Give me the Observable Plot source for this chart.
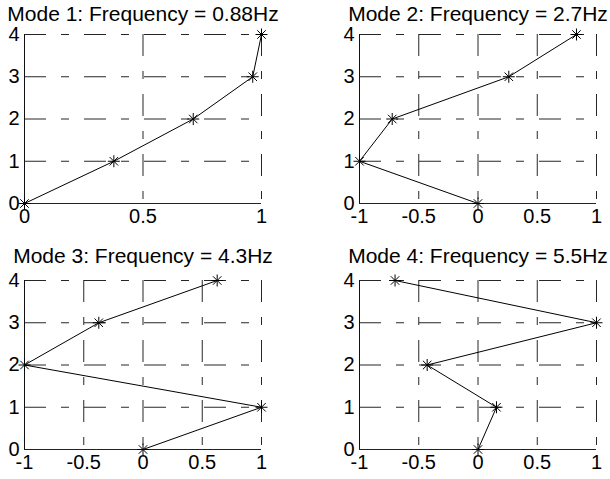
<!DOCTYPE html>
<html>
<head>
<meta charset="utf-8">
<script src="https://cdn.jsdelivr.net/npm/d3@7"></script>
<script src="https://cdn.jsdelivr.net/npm/@observablehq/plot@0.6"></script>
<style>
  html, body { margin: 0; padding: 0; background: #fff; }
  #chart { position: relative; width: 610px; height: 479px; background: #fff; overflow: hidden; }
  #chart svg { position: absolute; }
</style>
</head>
<body>
<div id="chart"></div>
<script>
// ---- data ----
const titles = [
  "Mode 1: Frequency = 0.88Hz",
  "Mode 2: Frequency = 2.7Hz",
  "Mode 3: Frequency = 4.3Hz",
  "Mode 4: Frequency = 5.5Hz"
];
const floors = [0, 1, 2, 3, 4];
const mode1 = [0, 0.377, 0.712, 0.963, 1];
const mode2 = [0, -1, -0.724, 0.26, 0.831];
const mode3 = [0, 1, -1, -0.373, 0.626];
const mode4 = [0, 0.156, -0.429, 1, -0.70];
const xTicksMode1 = [0, 0.5, 1];
const xTicksOther = [-1, -0.5, 0, 0.5, 1];
const yTicks = [0, 1, 2, 3, 4];

// 8-armed asterisk (plus + cross), like MATLAB's '*'
const asterisk8 = {
  draw(context, size) {
    const r = Math.sqrt(size / Math.PI);
    const d = r * Math.SQRT1_2;
    context.moveTo(-r, 0); context.lineTo(r, 0);
    context.moveTo(0, -r); context.lineTo(0, r);
    context.moveTo(-d, -d); context.lineTo(d, d);
    context.moveTo(-d, d); context.lineTo(d, -d);
  }
};

const panels = [
  {values: mode1, xTicks: xTicksMode1, left: 0,   top: 0,   width: 305, height: 240, mt: 34, mb: 37, ml: 24, mr: 44, titleDy: -14},
  {values: mode2, xTicks: xTicksOther, left: 305, top: 0,   width: 305, height: 240, mt: 34, mb: 37, ml: 54, mr: 14, titleDy: -14},
  {values: mode3, xTicks: xTicksOther, left: 0,   top: 240, width: 305, height: 239, mt: 40, mb: 30, ml: 24, mr: 44, titleDy: -18},
  {values: mode4, xTicks: xTicksOther, left: 305, top: 240, width: 305, height: 239, mt: 40, mb: 30, ml: 54, mr: 14, titleDy: -18}
];

const container = document.getElementById("chart");
const dash = "22,15,8,15";

panels.forEach((p, i) => {
  const data = floors.map((f, j) => ({floor: f, disp: p.values[j]}));
  const xDomain = [p.xTicks[0], p.xTicks[p.xTicks.length - 1]];
  const svg = Plot.plot({
    width: p.width,
    height: p.height,
    marginTop: p.mt,
    marginBottom: p.mb,
    marginLeft: p.ml,
    marginRight: p.mr,
    style: {fontFamily: "'Liberation Sans', Arial, sans-serif", fontSize: "20px", background: "white", color: "black", overflow: "visible"},
    x: {domain: xDomain},
    y: {domain: [0, 4]},
    marks: [
      Plot.gridX(p.xTicks, {stroke: "black", strokeOpacity: 0.85, strokeDasharray: dash}),
      Plot.gridY(yTicks, {stroke: "black", strokeOpacity: 0.85, strokeDasharray: dash}),
      Plot.ruleX([xDomain[0]], {stroke: "#111", strokeWidth: 1}),
      Plot.ruleY([0], {stroke: "#222", strokeWidth: 1}),
      Plot.axisX(p.xTicks, {tickSize: 0, tickPadding: 5, tickFormat: d => String(d), label: null, fontSize: 20}),
      Plot.axisY(yTicks, {tickSize: 0, tickPadding: 5, tickFormat: d => String(d), label: null, fontSize: 20}),
      Plot.line(data, {x: "disp", y: "floor", stroke: "black", strokeWidth: 1}),
      Plot.dot(data, {x: "disp", y: "floor", symbol: asterisk8, r: 6, stroke: "black", strokeWidth: 1, fill: "none"}),
      Plot.text([titles[i]], {frameAnchor: "top", dy: p.titleDy, lineAnchor: "bottom", fontSize: 21, fill: "black"})
    ]
  });
  svg.style.left = p.left + "px";
  svg.style.top = p.top + "px";
  container.appendChild(svg);
});
</script>
</body>
</html>
